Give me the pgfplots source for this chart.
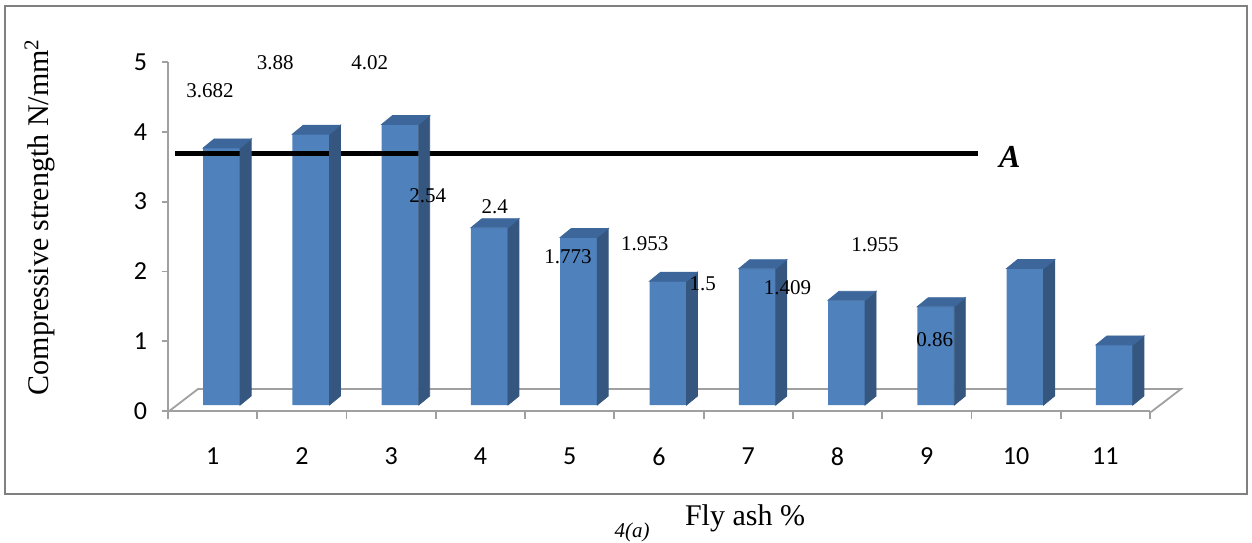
\documentclass[border=0pt]{standalone}
\usepackage{pgfplots}
\pgfplotsset{compat=1.18}
\usepackage{pgfplotstable}
\usepackage{fontspec}
\setmainfont{Liberation Serif}
\newfontfamily\carlito{Carlito}

\definecolor{barfront}{HTML}{4F81BD}
\definecolor{barside}{HTML}{35577F}
\definecolor{bartop}{HTML}{3D679B}
\definecolor{floorgrey}{HTML}{A0A0A0}
\definecolor{framegrey}{HTML}{808080}

\pgfdeclareplotmark{nothing}{}

% compressive strength per fly ash step
\pgfplotstableread{
x v
1 3.682
2 3.88
3 4.02
4 2.54
5 2.4
6 1.773
7 1.953
8 1.5
9 1.409
10 1.955
11 0.86
}\strength

% value labels, where the reference puts them
\pgfplotstableread{
x y lab
0.97 4.585 3.682
1.70 4.986 3.88
2.76 4.986 4.02
3.41 3.08 2.54
4.16 2.92 2.4
4.98 2.21 1.773
5.84 2.39 1.953
6.49 1.82 1.5
7.44 1.76 1.409
8.42 2.38 1.955
9.09 1.02 0.86
}\labels

\begin{document}
\begin{tikzpicture}
\useasboundingbox (-84pt,-65.5pt) rectangle (542pt,205.5pt);
% frame, floor and outer texts, in pixel units of the reference
\begin{scope}[x=0.5pt,y=-0.5pt,shift={(-168,-411)}]
  \draw[framegrey, line width=1pt] (5,6) rectangle (1247,494);
  \draw[floorgrey, line width=0.9pt] (168,412) -- (198,389) -- (1181,389) -- (1151,412);
  \node[rotate=90, font=\fontsize{15}{18}\selectfont] at (40,217) {Compressive strength N/mm\textsuperscript{2}};
  \node[font=\fontsize{15}{18}\selectfont] at (745,518) {Fly ash \%};
  \node[font=\fontsize{10.5}{12}\selectfont\itshape] at (632,532) {4(a)};
\end{scope}
\begin{axis}[
    at={(0,0)}, anchor=south west,
    scale only axis, width=491pt, height=174.5pt,
    xmin=0.5, xmax=11.5, ymin=0, ymax=5,
    clip=false,
    axis x line*=bottom, axis y line*=left,
    axis line style={floorgrey, line width=0.9pt},
    xtick={1,...,11}, ytick={0,...,5},
    minor xtick={0.5,1.5,...,11.5},
    tick align=outside,
    major tick length=3pt, minor tick length=4pt,
    major x tick style={draw=none},
    minor x tick style={floorgrey, line width=0.9pt},
    y tick style={floorgrey, line width=0.9pt},
    /pgf/number format/assume math mode=true,
    ticklabel style={font=\carlito\fontsize{13}{14}\selectfont},
    yticklabel style={xshift=-4pt},
    xticklabel style={yshift=-12pt},
  ]
  % front faces
  \addplot[ybar, bar width=18.5pt, bar shift=4.5pt, yshift=3pt,
    fill=barfront, draw=none] table[x=x, y=v] {\strength};
  % side and top faces
  \addplot[only marks, scatter, mark=nothing,
    visualization depends on={\thisrow{v} \as \bv},
    scatter/@pre marker code/.code={%
      \pgfmathsetlengthmacro\bh{\bv*34.9pt}%
      \fill[barside] (13.75pt,3pt) -- (19.25pt,7.5pt) -- (19.25pt,7.5pt+\bh) -- (13.75pt,3pt+\bh) -- cycle;
      \fill[bartop] (-4.75pt,3pt+\bh) -- (13.75pt,3pt+\bh) -- (19.25pt,7.5pt+\bh) -- (0.75pt,7.5pt+\bh) -- cycle;
    },
    scatter/@post marker code/.code={},
  ] table[x=x, y expr=0] {\strength};
  % line A
  \addplot[black, line width=2.5pt] coordinates {(0.58,3.682) (9.57,3.682)};
  \addplot[only marks, mark=nothing, point meta=explicit symbolic,
    nodes near coords,
    every node near coord/.style={anchor=center, black, font=\fontsize{10.5}{12}\selectfont},
  ] table[x=x, y=y, meta=lab] {\labels};
  \addplot[only marks, mark=nothing, point meta=explicit symbolic,
    nodes near coords,
    every node near coord/.style={anchor=center, black, font=\fontsize{16}{18}\selectfont\bfseries\itshape},
  ] coordinates {(9.93,3.64) [A]};
\end{axis}
\end{tikzpicture}
\end{document}
